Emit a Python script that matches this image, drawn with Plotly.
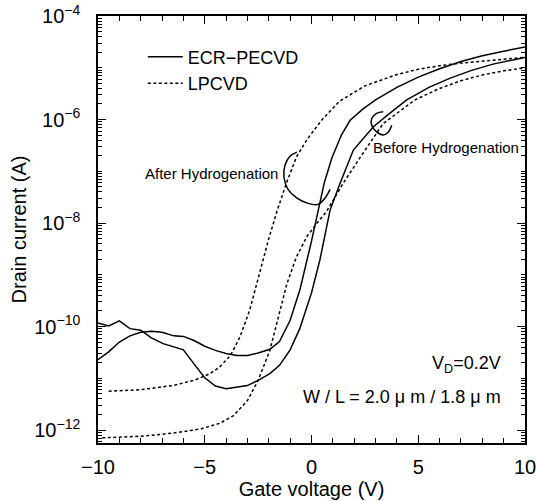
import plotly.graph_objects as go

# ---- data (gate voltage in V, drain current as log10(A)) ----
ecr_after_vg = [-10, -9.5, -9, -8.5, -8, -7.5, -7, -6.45, -6, -5.5, -5, -4.5, -4, -3.5, -3, -2.5, -1.95, -1.5, -1,
                -0.55, 0, 0.3, 0.6, 0.95, 1.4, 1.8, 2.4, 3, 4, 5, 6, 7, 8, 9, 10]
ecr_after_log = [-10.64, -10.49, -10.30, -10.18, -10.11, -10.09, -10.11, -10.18, -10.19, -10.27, -10.38, -10.46,
                 -10.52, -10.56, -10.56, -10.51, -10.44, -10.29, -9.88, -9.30, -8.35, -7.75, -7.22, -6.75, -6.3,
                 -6.02, -5.8, -5.62, -5.38, -5.18, -5.02, -4.88, -4.77, -4.68, -4.6]

ecr_before_vg = [-10, -9.5, -9, -8.5, -8, -7.5, -6.95, -6, -5.45, -5, -4.5, -4, -3, -2.5, -1.95, -1.5, -1, -0.55,
                 0, 0.4, 0.87, 1.33, 1.96, 2.9, 3.6, 4.46, 5.5, 6.5, 7.5, 8.5, 10]
ecr_before_log = [-9.93, -9.99, -9.89, -10.04, -10.07, -10.22, -10.33, -10.45, -10.75, -10.99, -11.15, -11.2, -11.14,
                  -11.04, -10.91, -10.75, -10.45, -10.04, -9.35, -8.7, -7.75, -7.24, -6.59, -6.14, -5.9, -5.62,
                  -5.38, -5.2, -5.05, -4.93, -4.8]

lp_after_vg = [-9.5, -8, -6.5, -5.5, -4.75, -4.3, -3.8, -3.35, -2.9, -2.4, -2.0, -1.6, -1.15, -0.7, -0.2, 0.5, 1.3,
               2.5, 4, 5, 6, 7, 8, 9, 10]
lp_after_log = [-11.25, -11.22, -11.14, -11.04, -10.91, -10.78, -10.56, -10.2, -9.69, -8.91, -8.3, -7.75, -7.2,
                -6.72, -6.38, -6.0, -5.65, -5.35, -5.13, -5.03, -4.96, -4.91, -4.87, -4.83, -4.8]

lp_before_vg = [-9.8, -8, -6.5, -5.2, -4.3, -3.65, -3.0, -2.5, -1.95, -1.5, -1.15, -0.7, -0.2, 0.3, 0.7, 1.1, 1.5,
                2.3, 3.35, 4.85, 6, 7, 8, 9, 10]
lp_before_log = [-12.15, -12.12, -12.06, -11.98, -11.87, -11.72, -11.43, -11.04, -10.46, -9.75, -9.17, -8.65,
                 -8.25, -7.98, -7.78, -7.5, -7.22, -6.72, -6.08, -5.62, -5.4, -5.25, -5.14, -5.06, -5.0]

# annotation arcs (data coordinates)
arc_after_vg = [-0.68, -1.01, -1.24, -1.29, -1.10, -0.68, -0.16, 0.30, 0.63, 0.87]
arc_after_log = [-6.63, -6.71, -6.88, -7.11, -7.35, -7.52, -7.62, -7.64, -7.52, -7.35]
arc_before_vg = [3.36, 3.05, 2.82, 2.82, 3.05, 3.36, 3.60, 3.76]
arc_before_log = [-5.85, -5.88, -5.98, -6.11, -6.24, -6.30, -6.24, -6.11]

ytick_exp = [-12, -10, -8, -6, -4]
ytick_text = ["10<sup>−12</sup>", "10<sup>−10</sup>", "10<sup>−8</sup>", "10<sup>−6</sup>", "10<sup>−4</sup>"]
minor_decades = [-13, -12, -11, -10, -9, -8, -7, -6, -5]
minor_mantissas = [1, 2, 3, 4, 5, 6, 7, 8, 9]
xtick_vals = [-10, -5, 0, 5, 10]
xtick_text = ["−10", "−5", "0", "5", "10"]


def amps(logs):
    return [10 ** v for v in logs]


minor_vals = [m * 10 ** e for e in minor_decades for m in minor_mantissas]

FONT = "Liberation Sans, Arial, sans-serif"
fig = go.Figure()

fig.add_trace(go.Scatter(x=ecr_after_vg, y=amps(ecr_after_log), mode="lines", name="ECR−PECVD",
                         line=dict(color="black", width=1.5), legendrank=1))
fig.add_trace(go.Scatter(x=lp_after_vg, y=amps(lp_after_log), mode="lines", name="LPCVD",
                         line=dict(color="black", width=1.5, dash="3px,2.5px"), legendrank=2))
fig.add_trace(go.Scatter(x=ecr_before_vg, y=amps(ecr_before_log), mode="lines", showlegend=False,
                         line=dict(color="black", width=1.5)))
fig.add_trace(go.Scatter(x=lp_before_vg, y=amps(lp_before_log), mode="lines", showlegend=False,
                         line=dict(color="black", width=1.5, dash="3px,2.5px")))
fig.add_trace(go.Scatter(x=arc_after_vg, y=amps(arc_after_log), mode="lines", showlegend=False,
                         line=dict(color="black", width=1.5, shape="spline")))
fig.add_trace(go.Scatter(x=arc_before_vg, y=amps(arc_before_log), mode="lines", showlegend=False,
                         line=dict(color="black", width=1.5, shape="spline")))

fig.add_annotation(x=-4.68, y=-7.04, xref="x", yref="y", text="After Hydrogenation", showarrow=False,
                   font=dict(size=15, color="black", family=FONT))
fig.add_annotation(x=6.28, y=-6.55, xref="x", yref="y", text="Before Hydrogenation", showarrow=False,
                   font=dict(size=15, color="black", family=FONT))
fig.add_annotation(x=0.948, y=0.183, xref="paper", yref="paper", xanchor="right", yanchor="middle",
                   text="V<sub>D</sub>=0.2V", showarrow=False, font=dict(size=18, color="black", family=FONT))
fig.add_annotation(x=0.948, y=0.108, xref="paper", yref="paper", xanchor="right", yanchor="middle",
                   text="W / L = 2.0 μ m / 1.8 μ m", showarrow=False,
                   font=dict(size=18, color="black", family=FONT))

fig.update_layout(
    width=536, height=501,
    margin=dict(l=98, r=11, t=16, b=58),
    paper_bgcolor="white", plot_bgcolor="white",
    font=dict(family=FONT, color="black", size=20),
    legend=dict(x=0.105, y=0.947, xanchor="left", yanchor="top", bgcolor="rgba(0,0,0,0)",
                font=dict(size=18), tracegroupgap=0, itemwidth=35),
    showlegend=True,
)
fig.update_xaxes(
    range=[-10, 10], tickmode="array", tickvals=xtick_vals, ticktext=xtick_text, automargin=False,
    ticks="inside", ticklen=8, tickwidth=1.2, tickcolor="black", ticklabelstandoff=5,
    ticklabeloverflow="allow",
    minor=dict(dtick=1, ticks="inside", ticklen=5, tickwidth=1.2, tickcolor="black", showgrid=False),
    showline=True, linecolor="black", linewidth=1.5, mirror="allticks",
    showgrid=False, zeroline=False,
    title=dict(text="Gate voltage (V)", font=dict(size=20), standoff=5),
    tickfont=dict(size=20),
)
fig.update_yaxes(
    type="log", range=[-12.25, -4], automargin=False,
    tickmode="array", tickvals=[10 ** e for e in ytick_exp], ticktext=ytick_text,
    ticks="inside", ticklen=8, tickwidth=1.2, tickcolor="black", ticklabelstandoff=12,
    ticklabeloverflow="allow",
    minor=dict(tickmode="array", tickvals=minor_vals, ticks="inside", ticklen=4, tickwidth=1,
               tickcolor="black", showgrid=False),
    showline=True, linecolor="black", linewidth=1.5, mirror="allticks",
    showgrid=False, zeroline=False,
    title=dict(text="Drain current (A)", font=dict(size=20), standoff=2),
    tickfont=dict(size=20),
)

fig.write_html("out.html", config={"displayModeBar": False},
               post_script="document.body.style.margin='0';")
